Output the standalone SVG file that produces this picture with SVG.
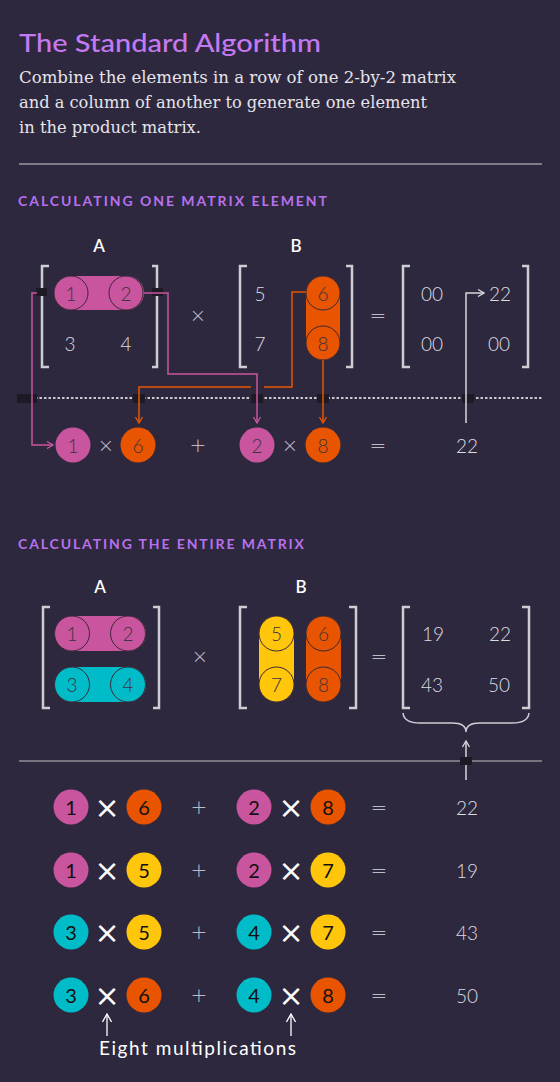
<svg xmlns="http://www.w3.org/2000/svg" width="560" height="1082" viewBox="0 0 560 1082">
<defs>
<style>
.sans{font-family:Lato,"Noto Sans","DejaVu Sans",sans-serif}
.title{font-family:Lato,"Noto Sans",sans-serif;font-size:24px;font-weight:500;fill:#c479f2}
.sub{font-family:"DejaVu Serif","Liberation Serif",serif;font-size:16px;fill:#e6e3ea}
.hdr{font-family:Lato,"Noto Sans",sans-serif;font-size:14px;font-weight:700;fill:#b771ec}
.lbl{font-family:Lato,"Noto Sans",sans-serif;font-size:17px;font-weight:600;fill:#ffffff}
.num{font-family:Lato,"Noto Sans",sans-serif;font-size:19px;font-weight:300;fill:#dcdce0;text-anchor:middle;dominant-baseline:central}
.cn{font-family:Lato,"Noto Sans",sans-serif;font-size:19px;font-weight:300;fill:#3b3340;text-anchor:middle;dominant-baseline:central}
.bn{font-family:Lato,"Noto Sans",sans-serif;font-size:20px;font-weight:400;fill:#111111;text-anchor:middle;dominant-baseline:central}
.op{font-family:"DejaVu Sans",sans-serif;font-size:20px;font-weight:300;fill:#bdbbc4;text-anchor:middle;dominant-baseline:central}
.bx{font-family:"DejaVu Sans",sans-serif;font-size:30px;font-weight:400;fill:#ffffff;text-anchor:middle;dominant-baseline:central}
.br{fill:none;stroke:#cfcdd4;stroke-width:2.5}
.pink{fill:#c8559e}
.orange{fill:#e85400}
.yellow{fill:#ffc60b}
.cyan{fill:#00bcc8}
.ring{stroke:#3a2835;stroke-width:1}
.mk{fill:#1d1a25}
.cp{fill:none;stroke:#c8559e;stroke-width:1.5}
.co{fill:none;stroke:#e85400;stroke-width:1.5}
.cg{fill:none;stroke:#d8d6dc;stroke-width:1.5}
</style>
<marker id="ap" viewBox="0 0 8 8" refX="7" refY="4" markerWidth="8" markerHeight="8" markerUnits="userSpaceOnUse" orient="auto"><path d="M1,0.5 L7,4 L1,7.5" fill="none" stroke="#c8559e" stroke-width="1.3"/></marker>
<marker id="ao" viewBox="0 0 8 8" refX="7" refY="4" markerWidth="8" markerHeight="8" markerUnits="userSpaceOnUse" orient="auto"><path d="M1,0.5 L7,4 L1,7.5" fill="none" stroke="#e85400" stroke-width="1.3"/></marker>
<marker id="ag" viewBox="0 0 8 8" refX="7" refY="4" markerWidth="8" markerHeight="8" markerUnits="userSpaceOnUse" orient="auto"><path d="M1,0.5 L7,4 L1,7.5" fill="none" stroke="#d8d6dc" stroke-width="1.3"/></marker>
<marker id="aw" viewBox="0 0 10 10" refX="9" refY="5" markerWidth="10" markerHeight="10" markerUnits="userSpaceOnUse" orient="auto"><path d="M1,0.5 L9,5 L1,9.5" fill="none" stroke="#ffffff" stroke-width="1.3"/></marker>
</defs>
<rect width="560" height="1082" fill="#2d283e"/>

<g id="header">
<text class="title" x="19" y="52" textLength="302" lengthAdjust="spacingAndGlyphs">The Standard Algorithm</text>
<text class="sub" x="19" y="83" textLength="437" lengthAdjust="spacingAndGlyphs">Combine the elements in a row of one 2-by-2 matrix</text>
<text class="sub" x="19" y="108" textLength="408" lengthAdjust="spacingAndGlyphs">and a column of another to generate one element</text>
<text class="sub" x="19" y="133" textLength="182" lengthAdjust="spacingAndGlyphs">in the product matrix.</text>
<line x1="19" y1="164" x2="542" y2="164" stroke="#9b97a3" stroke-width="1.5"/>
</g>

<g id="section1-title"><text class="hdr" x="18" y="206" textLength="309" lengthAdjust="spacing">CALCULATING ONE MATRIX ELEMENT</text></g>

<g id="matrixA1">
<text class="lbl" x="99" y="252" text-anchor="middle">A</text>
<path class="br" d="M49,266 H42 V367 H49 M152,266 H157 V367 H152"/>
<rect class="pink" x="54" y="276" width="90" height="34" rx="17"/>
<circle class="pink ring" cx="71" cy="293" r="17"/>
<circle class="pink ring" cx="126" cy="293" r="17"/>
<text class="cn" x="71" y="293">1</text>
<text class="cn" x="126" y="293">2</text>
<text class="num" x="70" y="343">3</text>
<text class="num" x="126" y="343">4</text>
<rect class="mk" x="36" y="288" width="11" height="8"/>
<rect class="mk" x="152" y="288" width="11" height="8"/>
</g>
<g id="times1"><text class="op" x="198" y="315">×</text></g>
<g id="matrixB1">
<text class="lbl" x="296" y="252" text-anchor="middle">B</text>
<path class="br" d="M247,266 H240 V367 H247 M346,266 H352 V367 H346"/>
<text class="num" x="260" y="293">5</text>
<text class="num" x="260" y="343">7</text>
<rect class="orange" x="306" y="276" width="34" height="84" rx="17"/>
<circle class="orange ring" cx="323" cy="293" r="17"/>
<circle class="orange ring" cx="323" cy="343" r="17"/>
<text class="cn" x="323" y="293">6</text>
<text class="cn" x="323" y="343">8</text>
</g>
<g id="equals1"><text class="op" x="378" y="315">=</text></g>
<g id="matrixC1">
<path class="br" d="M410,266 H403 V367 H410 M522,266 H528 V367 H522"/>
<text class="num" x="432" y="293">00</text>
<text class="num" x="500" y="293">22</text>
<text class="num" x="432" y="343">00</text>
<text class="num" x="499" y="343">00</text>
</g>

<g id="divider1">
<line x1="17" y1="398" x2="542" y2="398" stroke="#c9c7cf" stroke-width="2" stroke-dasharray="2.5 2"/>
<rect class="mk" x="17" y="394" width="20" height="9"/>
<rect class="mk" x="133" y="394" width="12" height="9"/>
<rect class="mk" x="251" y="394" width="12" height="9"/>
<rect class="mk" x="317" y="394" width="12" height="9"/>
<rect class="mk" x="462" y="394" width="12" height="9"/>
</g>

<g id="equation1">
<circle class="pink" cx="73" cy="445" r="17.5"/><text class="cn" x="73" y="445">1</text>
<text class="op" x="106" y="445">×</text>
<circle class="orange" cx="138" cy="445" r="17.5"/><text class="cn" x="138" y="445">6</text>
<text class="op" x="198" y="445">+</text>
<circle class="pink" cx="257" cy="445" r="17.5"/><text class="cn" x="257" y="445">2</text>
<text class="op" x="290" y="445">×</text>
<circle class="orange" cx="323" cy="445" r="17.5"/><text class="cn" x="323" y="445">8</text>
<text class="op" x="378" y="445">=</text>
<text class="num" x="467" y="445">22</text>
</g>

<g id="connectors">
<path class="cp" d="M37,293 H32 V445 H53" marker-end="url(#ap)"/>
<path class="cp" d="M144,293 H168 V374 H257 V423" marker-end="url(#ap)"/>
<path class="co" d="M306,292 H292 V387 H264 M251,387 H139 V423" marker-end="url(#ao)"/>
<path class="co" d="M323,360 V423" marker-end="url(#ao)"/>
<path class="cg" d="M466,423 V293 H484" marker-end="url(#ag)"/>
<path class="cg" d="M466,780 V741" marker-end="url(#ag)"/>
</g>

<g id="section2-title"><text class="hdr" x="18" y="549" textLength="286" lengthAdjust="spacing">CALCULATING THE ENTIRE MATRIX</text></g>

<g id="matrixA2">
<text class="lbl" x="100" y="593" text-anchor="middle">A</text>
<path class="br" d="M50,607 H43 V708 H50 M153,607 H159 V708 H153"/>
<rect class="pink" x="55" y="616" width="91" height="35" rx="17.5"/>
<circle class="pink ring" cx="72" cy="633.5" r="17.5"/>
<circle class="pink ring" cx="128" cy="633.5" r="17.5"/>
<text class="cn" x="72" y="633">1</text>
<text class="cn" x="128" y="633">2</text>
<rect class="cyan" x="55" y="667" width="91" height="35" rx="17.5"/>
<circle class="cyan ring" cx="72" cy="684.5" r="17.5"/>
<circle class="cyan ring" cx="128" cy="684.5" r="17.5"/>
<text class="cn" x="72" y="684">3</text>
<text class="cn" x="128" y="684">4</text>
</g>
<g id="times2"><text class="op" x="200" y="656">×</text></g>
<g id="matrixB2">
<text class="lbl" x="301" y="593" text-anchor="middle">B</text>
<path class="br" d="M247,607 H240 V708 H247 M349,607 H356 V708 H349"/>
<rect class="yellow" x="259" y="616" width="35" height="86" rx="17.5"/>
<circle class="yellow ring" cx="276.5" cy="633.5" r="17.5"/>
<circle class="yellow ring" cx="276.5" cy="684.5" r="17.5"/>
<text class="cn" x="276.5" y="633">5</text>
<text class="cn" x="276.5" y="684">7</text>
<rect class="orange" x="306" y="616" width="35" height="86" rx="17.5"/>
<circle class="orange ring" cx="323.5" cy="633.5" r="17.5"/>
<circle class="orange ring" cx="323.5" cy="684.5" r="17.5"/>
<text class="cn" x="323.5" y="633">6</text>
<text class="cn" x="323.5" y="684">8</text>
</g>
<g id="equals2"><text class="op" x="379" y="656">=</text></g>
<g id="matrixC2">
<path class="br" d="M410,607 H403 V708 H410 M522,607 H529 V708 H522"/>
<text class="num" x="433" y="633">19</text>
<text class="num" x="500" y="633">22</text>
<text class="num" x="432" y="684">43</text>
<text class="num" x="499" y="684">50</text>
<path d="M403,713 Q404,723 420,723 H452 Q466,723 466,732 Q466,723 480,723 H512 Q528,723 529,713" fill="none" stroke="#cfcdd4" stroke-width="1.5"/>
</g>

<g id="divider2">
<line x1="19" y1="761" x2="542" y2="761" stroke="#77737f" stroke-width="2"/>
<rect class="mk" x="460" y="757" width="12" height="8"/>
</g>

<g id="row1">
<circle class="pink" cx="71" cy="807" r="17.5"/><text class="bn" x="71" y="807">1</text>
<text class="bx" x="107" y="807">×</text>
<circle class="orange" cx="144" cy="807" r="17.5"/><text class="bn" x="144" y="807">6</text>
<text class="op" x="199" y="807">+</text>
<circle class="pink" cx="254" cy="807" r="17.5"/><text class="bn" x="254" y="807">2</text>
<text class="bx" x="291" y="807">×</text>
<circle class="orange" cx="328" cy="807" r="17.5"/><text class="bn" x="328" y="807">8</text>
<text class="op" x="379" y="807">=</text>
<text class="num" x="467" y="807">22</text>
</g>
<g id="row2">
<circle class="pink" cx="71" cy="870" r="17.5"/><text class="bn" x="71" y="870">1</text>
<text class="bx" x="107" y="870">×</text>
<circle class="yellow" cx="144" cy="870" r="17.5"/><text class="bn" x="144" y="870">5</text>
<text class="op" x="199" y="870">+</text>
<circle class="pink" cx="254" cy="870" r="17.5"/><text class="bn" x="254" y="870">2</text>
<text class="bx" x="291" y="870">×</text>
<circle class="yellow" cx="328" cy="870" r="17.5"/><text class="bn" x="328" y="870">7</text>
<text class="op" x="379" y="870">=</text>
<text class="num" x="467" y="870">19</text>
</g>
<g id="row3">
<circle class="cyan" cx="71" cy="932" r="17.5"/><text class="bn" x="71" y="932">3</text>
<text class="bx" x="107" y="932">×</text>
<circle class="yellow" cx="144" cy="932" r="17.5"/><text class="bn" x="144" y="932">5</text>
<text class="op" x="199" y="932">+</text>
<circle class="cyan" cx="254" cy="932" r="17.5"/><text class="bn" x="254" y="932">4</text>
<text class="bx" x="291" y="932">×</text>
<circle class="yellow" cx="328" cy="932" r="17.5"/><text class="bn" x="328" y="932">7</text>
<text class="op" x="379" y="932">=</text>
<text class="num" x="467" y="932">43</text>
</g>
<g id="row4">
<circle class="cyan" cx="71" cy="995" r="17.5"/><text class="bn" x="71" y="995">3</text>
<text class="bx" x="107" y="995">×</text>
<circle class="orange" cx="144" cy="995" r="17.5"/><text class="bn" x="144" y="995">6</text>
<text class="op" x="199" y="995">+</text>
<circle class="cyan" cx="254" cy="995" r="17.5"/><text class="bn" x="254" y="995">4</text>
<text class="bx" x="291" y="995">×</text>
<circle class="orange" cx="328" cy="995" r="17.5"/><text class="bn" x="328" y="995">8</text>
<text class="op" x="379" y="995">=</text>
<text class="num" x="467" y="995">50</text>
</g>

<g id="note">
<path d="M107,1036 V1014" fill="none" stroke="#ffffff" stroke-width="1.3" marker-end="url(#aw)"/>
<path d="M291,1036 V1014" fill="none" stroke="#ffffff" stroke-width="1.3" marker-end="url(#aw)"/>
<text class="sans" x="99" y="1055" font-size="19" fill="#ffffff" textLength="197" lengthAdjust="spacing">Eight multiplications</text>
</g>
</svg>
